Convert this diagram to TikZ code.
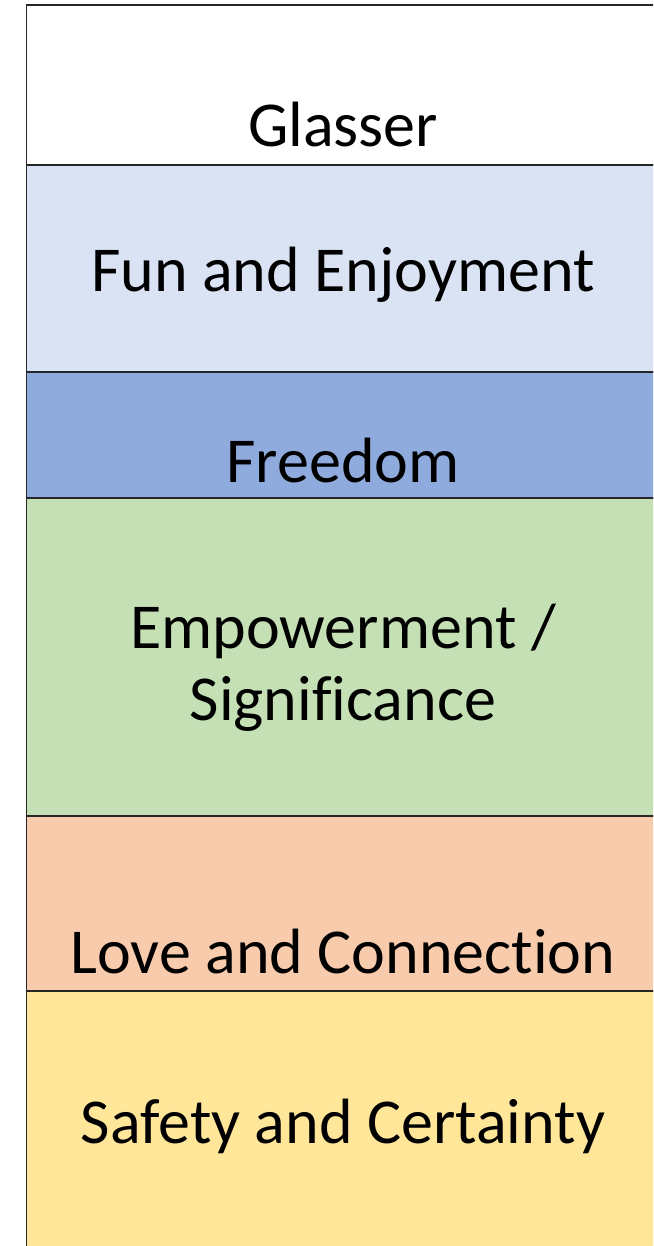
\documentclass[tikz,border=0pt]{standalone}
\usepackage{fontspec}
\setmainfont[Ligatures={NoCommon}]{Carlito}
\definecolor{func}{HTML}{DAE3F3}
\definecolor{freec}{HTML}{8FAADC}
\definecolor{empc}{HTML}{C5E0B4}
\definecolor{lovec}{HTML}{F8CBAD}
\definecolor{safec}{HTML}{FFE699}
\definecolor{edge}{HTML}{262626}
\tikzset{
  band/.style={draw=edge, line width=1.3pt},
  lbl/.style={font=\fontsize{64}{72}\selectfont, text=black, inner sep=0pt, anchor=base}
}
\begin{document}
\begin{tikzpicture}[x=1pt,y=-1pt]
\useasboundingbox (0,0) rectangle (653,1246);
\begin{scope}
\clip (0,0) rectangle (653,1246);
\path[band, fill=white] (26.5,5) rectangle (665,165);
\path[band, fill=func] (26.5,165) rectangle (665,372);
\path[band, fill=freec] (26.5,372) rectangle (665,498);
\path[band, fill=empc] (26.5,498) rectangle (665,816);
\path[band, fill=lovec] (26.5,816) rectangle (665,991);
\path[band, fill=safec] (26.5,991) rectangle (665,1260);
\end{scope}
\node[lbl] (glasser) at (343,147) {Glasser};
\node[lbl] (fun) at (343,291) {Fun and Enjoyment};
\node[lbl] (freedom) at (343,482) {Freedom};
\node[lbl] (emp) at (343,648) {Empowerment /};
\node[lbl] (sig) at (343,720) {Significance};
\node[lbl] (love) at (343,973) {Love and Connection};
\node[lbl] (safety) at (343,1143) {Safety and Certainty};
\end{tikzpicture}
\end{document}
